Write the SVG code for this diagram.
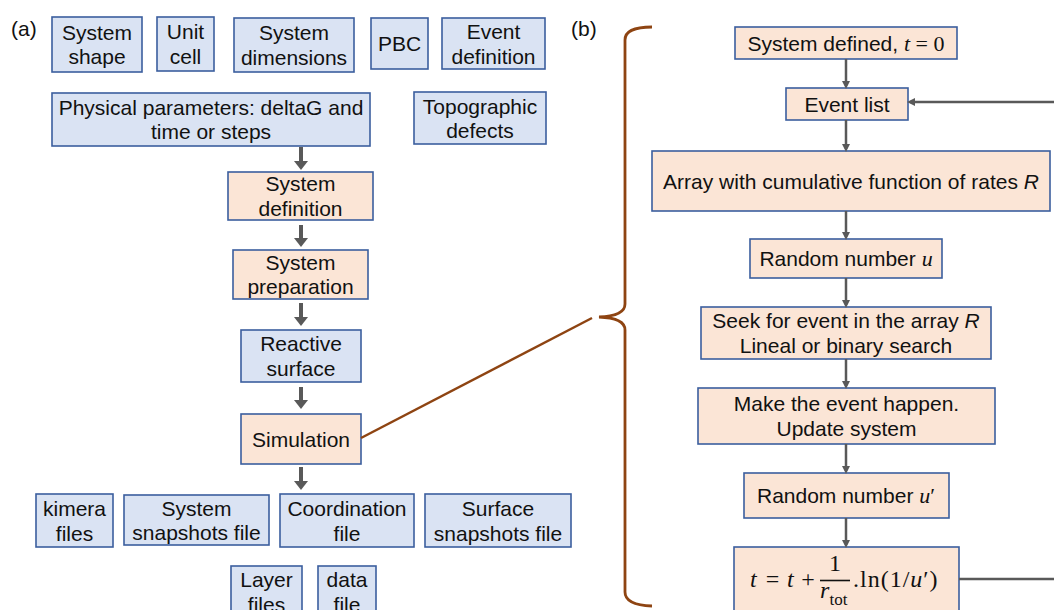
<svg xmlns="http://www.w3.org/2000/svg" width="1054" height="610" viewBox="0 0 1054 610">
  <style>
    text { font-family: "Liberation Sans", Arial, sans-serif; font-size: 21px; fill: #111; }
    .c { text-anchor: middle; }
    .blue { fill: #DAE3F3; stroke: #3B5E9E; stroke-width: 1.6; }
    .peach { fill: #FBE5D6; stroke: #3B5E9E; stroke-width: 1.6; }
    .m { font-family: "Liberation Serif", "Times New Roman", serif; font-size: 22px; }
    .mi { font-family: "Liberation Serif", "Times New Roman", serif; font-size: 22px; font-style: italic; }
    .f { font-family: "Liberation Serif", "Times New Roman", serif; font-size: 24px; }
    .fi { font-family: "Liberation Serif", "Times New Roman", serif; font-size: 24px; font-style: italic; }
    .it { font-style: italic; }
    .thick { stroke: #595959; stroke-width: 4; fill: none; }
    .thin { stroke: #595959; stroke-width: 2.5; fill: none; }
    .brace { stroke: #8E4412; stroke-width: 2.8; fill: none; }
  </style>
  <defs>
    <marker id="headThick" markerUnits="userSpaceOnUse" markerWidth="9" markerHeight="14" refX="0" refY="7" orient="auto">
      <path d="M0,0 L9,7 L0,14 z" fill="#595959"/>
    </marker>
    <marker id="headThin" markerUnits="userSpaceOnUse" markerWidth="8" markerHeight="8" refX="5" refY="4" orient="auto">
      <path d="M0,0 L8,4 L0,8 z" fill="#595959"/>
    </marker>
  </defs>

  <!-- panel labels -->
  <text x="11" y="36">(a)</text>
  <text x="571" y="36">(b)</text>

  <!-- (a) input blocks -->
  <g id="system-shape"><rect class="blue" x="52" y="17" width="90" height="55"/><text class="c" x="97" y="39.5">System</text><text class="c" x="97" y="64">shape</text></g>
  <g id="unit-cell"><rect class="blue" x="157" y="17" width="57" height="54"/><text class="c" x="185.5" y="39">Unit</text><text class="c" x="185.5" y="63.5">cell</text></g>
  <g id="system-dimensions"><rect class="blue" x="234" y="18" width="120" height="54"/><text class="c" x="294" y="40">System</text><text class="c" x="294" y="65">dimensions</text></g>
  <g id="pbc"><rect class="blue" x="371" y="18" width="57" height="51"/><text class="c" x="399.5" y="51">PBC</text></g>
  <g id="event-definition"><rect class="blue" x="442" y="18" width="103" height="51"/><text class="c" x="493.5" y="38.5">Event</text><text class="c" x="493.5" y="63.5">definition</text></g>
  <g id="physical-parameters"><rect class="blue" x="52" y="93" width="318" height="53"/><text class="c" x="211" y="115">Physical parameters: deltaG and</text><text class="c" x="211" y="139">time or steps</text></g>
  <g id="topographic-defects"><rect class="blue" x="414" y="92" width="132" height="52"/><text class="c" x="480" y="113.5">Topographic</text><text class="c" x="480" y="138">defects</text></g>

  <!-- (a) main chain -->
  <g id="system-definition"><rect class="peach" x="228" y="172" width="145" height="48"/><text class="c" x="300.5" y="191">System</text><text class="c" x="300.5" y="216">definition</text></g>
  <g id="system-preparation"><rect class="peach" x="233" y="250" width="135" height="49"/><text class="c" x="300.5" y="270">System</text><text class="c" x="300.5" y="294">preparation</text></g>
  <g id="reactive-surface"><rect class="blue" x="241" y="330" width="120" height="52"/><text class="c" x="301" y="351">Reactive</text><text class="c" x="301" y="376">surface</text></g>
  <g id="simulation"><rect class="peach" x="241" y="414" width="120" height="50"/><text class="c" x="301" y="447">Simulation</text></g>

  <!-- (a) output files -->
  <g id="kimera-files"><rect class="blue" x="36" y="494" width="77" height="53"/><text class="c" x="74.5" y="515.5">kimera</text><text class="c" x="74.5" y="540.5">files</text></g>
  <g id="system-snapshots"><rect class="blue" x="124" y="495" width="145" height="50"/><text class="c" x="196.5" y="515.5">System</text><text class="c" x="196.5" y="540">snapshots file</text></g>
  <g id="coordination-file"><rect class="blue" x="280" y="494" width="134" height="53"/><text class="c" x="347" y="515.5">Coordination</text><text class="c" x="347" y="540.5">file</text></g>
  <g id="surface-snapshots"><rect class="blue" x="425" y="494" width="146" height="53"/><text class="c" x="498" y="515.5">Surface</text><text class="c" x="498" y="540.5">snapshots file</text></g>
  <g id="layer-files"><rect class="blue" x="231" y="566" width="71" height="56"/><text class="c" x="266.5" y="587">Layer</text><text class="c" x="266.5" y="612">files</text></g>
  <g id="data-file"><rect class="blue" x="318" y="566" width="58" height="56"/><text class="c" x="347" y="587">data</text><text class="c" x="347" y="612">file</text></g>

  <!-- (b) KMC loop -->
  <g id="system-defined"><rect class="peach" x="735" y="27" width="222" height="32"/><text class="c" x="846" y="50.5">System defined, <tspan class="mi">t</tspan><tspan class="m"> = 0</tspan></text></g>
  <g id="event-list"><rect class="peach" x="786" y="88" width="122" height="32"/><text class="c" x="847" y="111.5">Event list</text></g>
  <g id="cumulative-array"><rect class="peach" x="652" y="151" width="398" height="60"/><text class="c" x="851" y="188.5">Array with cumulative function of rates <tspan class="it">R</tspan></text></g>
  <g id="random-u"><rect class="peach" x="750" y="239" width="192" height="39"/><text class="c" x="846" y="266">Random number <tspan class="mi">u</tspan></text></g>
  <g id="seek-event"><rect class="peach" x="701" y="307" width="290" height="52"/><text class="c" x="846" y="328">Seek for event in the array <tspan class="it">R</tspan></text><text class="c" x="846" y="353">Lineal or binary search</text></g>
  <g id="make-event"><rect class="peach" x="698" y="388" width="297" height="56"/><text class="c" x="846.5" y="411">Make the event happen.</text><text class="c" x="846.5" y="436">Update system</text></g>
  <g id="random-u-prime"><rect class="peach" x="744" y="473" width="205" height="45"/><text class="c" x="846" y="503">Random number <tspan class="mi">u</tspan><tspan class="m">′</tspan></text></g>
  <g id="time-update">
    <rect class="peach" x="734" y="547" width="225" height="75"/>
    <text class="fi" x="750" y="587">t</text>
    <text class="f c" x="772.5" y="587">=</text>
    <text class="fi" x="787" y="587">t</text>
    <text class="f c" x="808" y="587">+</text>
    <text class="f c" x="835" y="571">1</text>
    <line x1="820" y1="580.5" x2="850" y2="580.5" stroke="#111" stroke-width="1.6"/>
    <text class="fi" x="820" y="598">r</text>
    <text class="f" x="829.5" y="605" style="font-size:17px">tot</text>
    <text class="f" x="853" y="587" letter-spacing="1">.ln(1/<tspan class="fi">u</tspan>′)</text>
  </g>

  <!-- brace linking the Simulation step to panel (b) -->
  <g id="brace">
    <path class="brace" d="M652,27 Q625,27 625,40 L625,304 Q625,316 599,317 Q625,318 625,330 L625,592 Q625,605 652,606"/>
    <line class="brace" x1="361" y1="438" x2="592" y2="318" style="stroke-width:2.5"/>
  </g>

  <g id="connectors">
    <!-- (a) block arrows -->
    <line class="thick" x1="301" y1="147" x2="301" y2="161" marker-end="url(#headThick)"/>
    <line class="thick" x1="301" y1="225" x2="301" y2="238" marker-end="url(#headThick)"/>
    <line class="thick" x1="301" y1="303" x2="301" y2="317" marker-end="url(#headThick)"/>
    <line class="thick" x1="301" y1="387" x2="301" y2="400" marker-end="url(#headThick)"/>
    <line class="thick" x1="301" y1="467" x2="301" y2="481" marker-end="url(#headThick)"/>
    <!-- (b) flow arrows -->
    <line class="thin" x1="846" y1="59" x2="846" y2="86" marker-end="url(#headThin)"/>
    <line class="thin" x1="846" y1="120" x2="846" y2="149" marker-end="url(#headThin)"/>
    <line class="thin" x1="846" y1="211" x2="846" y2="237" marker-end="url(#headThin)"/>
    <line class="thin" x1="846" y1="278" x2="846" y2="305" marker-end="url(#headThin)"/>
    <line class="thin" x1="846" y1="359" x2="846" y2="386" marker-end="url(#headThin)"/>
    <line class="thin" x1="846" y1="444" x2="846" y2="471" marker-end="url(#headThin)"/>
    <line class="thin" x1="846" y1="518" x2="846" y2="545" marker-end="url(#headThin)"/>
    <!-- loop back to the event list -->
    <path class="thin" d="M959,579 H1064 V102 H910" marker-end="url(#headThin)"/>
  </g>
</svg>
